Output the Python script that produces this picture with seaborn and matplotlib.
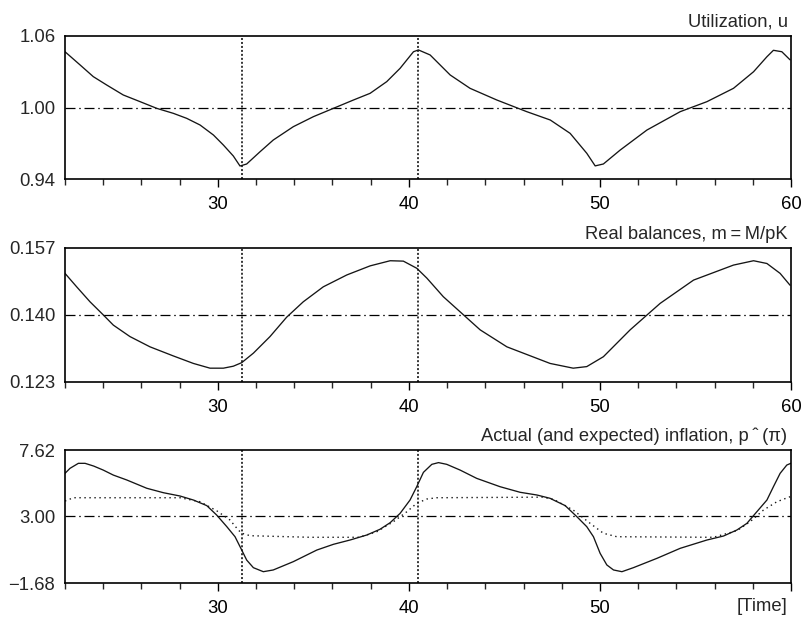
import matplotlib
matplotlib.use("Agg")
import matplotlib.pyplot as plt
import seaborn as sns
from matplotlib.ticker import MultipleLocator

# ---------------- data ----------------
u_t = [22, 22.79, 23.48, 24.18, 25.05, 25.93, 26.8, 27.67, 28.37, 29.07, 29.77, 30.29, 30.81,
       31.16, 31.51, 32.21, 32.9, 33.95, 35.0, 36.05, 37.1, 37.97, 38.84, 39.54, 40.24, 40.5,
       41.11, 42.16, 43.2, 44.6, 46.17, 47.4, 48.44, 49.31, 49.75, 50.18, 51.06, 52.46, 54.2,
       55.6, 56.99, 58.04, 58.74, 59.08, 59.52, 59.95]
u_v = [1.0468, 1.0357, 1.0259, 1.0189, 1.0105, 1.0049, 0.9993, 0.9951, 0.9909, 0.9853, 0.9769,
       0.9685, 0.9593, 0.9509, 0.9526, 0.9629, 0.9727, 0.9839, 0.9923, 0.9993, 1.0063, 1.0119,
       1.0217, 1.0329, 1.0468, 1.0483, 1.0441, 1.0273, 1.0161, 1.0063, 0.9965, 0.9895, 0.9783,
       0.9616, 0.9510, 0.9526, 0.9643, 0.9811, 0.9965, 1.0049, 1.0161, 1.0300, 1.0426, 1.0480,
       1.0468, 1.0400]

m_t = [22, 22.61, 23.31, 24.0, 24.53, 25.4, 26.45, 27.67, 28.72, 29.59, 30.29, 30.81, 31.25,
       31.86, 32.73, 33.6, 34.47, 35.52, 36.75, 37.97, 39.02, 39.71, 40.41, 40.94, 41.8, 43.73,
       45.13, 47.39, 48.6, 49.31, 50.18, 51.58, 53.15, 54.9, 56.99, 58.04, 58.74, 59.43, 59.95]
m_v = [0.1505, 0.1471, 0.1433, 0.1400, 0.1374, 0.1345, 0.1319, 0.1296, 0.1277, 0.1265, 0.1265,
       0.1270, 0.1279, 0.1303, 0.1345, 0.1394, 0.1433, 0.1471, 0.1501, 0.1524, 0.1537, 0.1536,
       0.1518, 0.1493, 0.1446, 0.1362, 0.1319, 0.1277, 0.1265, 0.1269, 0.1294, 0.1362, 0.1429,
       0.1488, 0.1526, 0.1537, 0.1530, 0.1505, 0.1475]

p_t = [22, 22.26, 22.7, 23.05, 23.5, 24.0, 24.53, 25.23, 26.28, 27.15, 28.02, 28.72, 29.42,
       29.94, 30.47, 30.9, 31.25, 31.51, 31.86, 32.38, 32.9, 33.95, 34.83, 35.18, 36.05, 36.92,
       37.8, 38.49, 39.02, 39.54, 40.06, 40.41, 40.76, 41.2, 41.55, 41.98, 42.68, 43.55, 44.77,
       45.82, 46.7, 47.39, 47.57, 48.18, 48.79, 49.31, 49.66, 50.01, 50.36, 50.71, 51.15, 51.75,
       52.98, 54.2, 55.6, 56.47, 57.17, 57.69, 58.21, 58.74, 59.08, 59.43, 59.78, 59.99]
p_v = [5.99, 6.34, 6.69, 6.69, 6.50, 6.22, 5.87, 5.53, 4.95, 4.64, 4.41, 4.13, 3.74, 3.08, 2.27,
       1.57, 0.64, -0.06, -0.59, -0.87, -0.75, -0.17, 0.41, 0.64, 1.04, 1.34, 1.69, 2.09, 2.55,
       3.20, 4.13, 5.06, 6.06, 6.62, 6.74, 6.62, 6.22, 5.64, 5.06, 4.67, 4.48, 4.25, 4.13, 3.74,
       2.97, 2.27, 1.57, 0.41, -0.40, -0.75, -0.87, -0.59, 0.06, 0.76, 1.34, 1.62, 2.04, 2.50,
       3.31, 4.13, 5.06, 5.99, 6.57, 6.69]

e_t = [22, 22.44, 28.02, 29.07, 29.94, 30.64, 31.07, 31.25, 31.69, 34.83, 37.4, 38.32, 39.19,
       39.89, 40.41, 40.94, 41.46, 47.0, 47.57, 48.6, 49.49, 50.18, 50.88, 55.94, 57.17, 57.86,
       58.56, 59.26, 59.95]
e_v = [4.06, 4.29, 4.29, 4.01, 3.38, 2.73, 2.04, 1.81, 1.64, 1.53, 1.53, 1.92, 2.62, 3.31, 3.90,
       4.20, 4.29, 4.33, 4.18, 3.43, 2.50, 1.81, 1.57, 1.53, 1.99, 2.62, 3.43, 4.01, 4.36]

titles = ["Utilization, u", "Real balances, m\u2009=\u2009M/pK",
          "Actual (and expected) inflation, p\u2009\u02c6\u2009(\u03c0)"]
y_ticks = [[0.94, 1.00, 1.06], [0.123, 0.140, 0.157], [-1.68, 3.00, 7.62]]
y_labels = [["0.94", "1.00", "1.06"], ["0.123", "0.140", "0.157"], ["\u22121.68", "3.00", "7.62"]]
x_major = [30, 40, 50, 60]
x_labels = [["30", "40", "50", "60"], ["30", "40", "50", "60"], ["30", "40", "50", ""]]
vlines = [31.25, 40.5]
x_range = (22, 60)

# ---------------- style ----------------
sns.set_style("ticks")
plt.rcParams["font.family"] = ["Liberation Sans", "DejaVu Sans"]
plt.rcParams["axes.linewidth"] = 1.2

fig = plt.figure(figsize=(8.03, 6.17), dpi=100)
W, H = 803, 617
boxes = [(36, 179), (247.7, 382), (450, 583.3)]
left, right = 65, 791

series = [[(u_t, u_v, "-")], [(m_t, m_v, "-")], [(e_t, e_v, "dot"), (p_t, p_v, "-")]]

for i in range(3):
    top, bot = boxes[i]
    ax = fig.add_axes([left / W, 1 - bot / H, (right - left) / W, (bot - top) / H])
    ylo, ymid, yhi = y_ticks[i]
    ax.axhline(ymid, color="black", lw=0.9, linestyle=(0, (8, 3, 1.2, 3)))
    for v in vlines:
        ax.axvline(v, color="black", lw=1.1, linestyle=(0, (1.3, 1.3)))
    for (t, v, st) in series[i]:
        if st == "-":
            sns.lineplot(x=t, y=v, ax=ax, color="#151515", lw=0.95, sort=False, estimator=None)
        else:
            sns.lineplot(x=t, y=v, ax=ax, color="#151515", lw=1.0, sort=False, estimator=None,
                         linestyle=(0, (1, 2.6)))
    ax.set_xlim(*x_range)
    ax.set_ylim(ylo, yhi)
    ax.set_xticks(x_major)
    ax.set_xticklabels(x_labels[i])
    ax.xaxis.set_minor_locator(MultipleLocator(2))
    ax.set_yticks(y_ticks[i])
    ax.set_yticklabels(y_labels[i])
    ax.tick_params(axis="x", which="major", direction="out", length=6, width=1.0,
                   labelsize=13.3, pad=6, colors="black")
    ax.tick_params(axis="x", which="minor", direction="out", length=4, width=1.0)
    ax.tick_params(axis="y", which="both", length=0, labelsize=13.3, pad=7)
    for s in ax.spines.values():
        s.set_visible(True)
        s.set_color("black")
    ax.set_xlabel("")
    ax.set_ylabel("")
    ax.annotate(titles[i], xy=(1, 1), xycoords="axes fraction", xytext=(-2.5, 6.5),
                textcoords="offset points", ha="right", va="baseline", fontsize=13.2)
    if i == 2:
        ax.annotate("[Time]", xy=(1, 0), xycoords="axes fraction", xytext=(-2.5, -10.5),
                    textcoords="offset points", ha="right", va="top", fontsize=13.3)

fig.savefig("out.png", dpi=100)
